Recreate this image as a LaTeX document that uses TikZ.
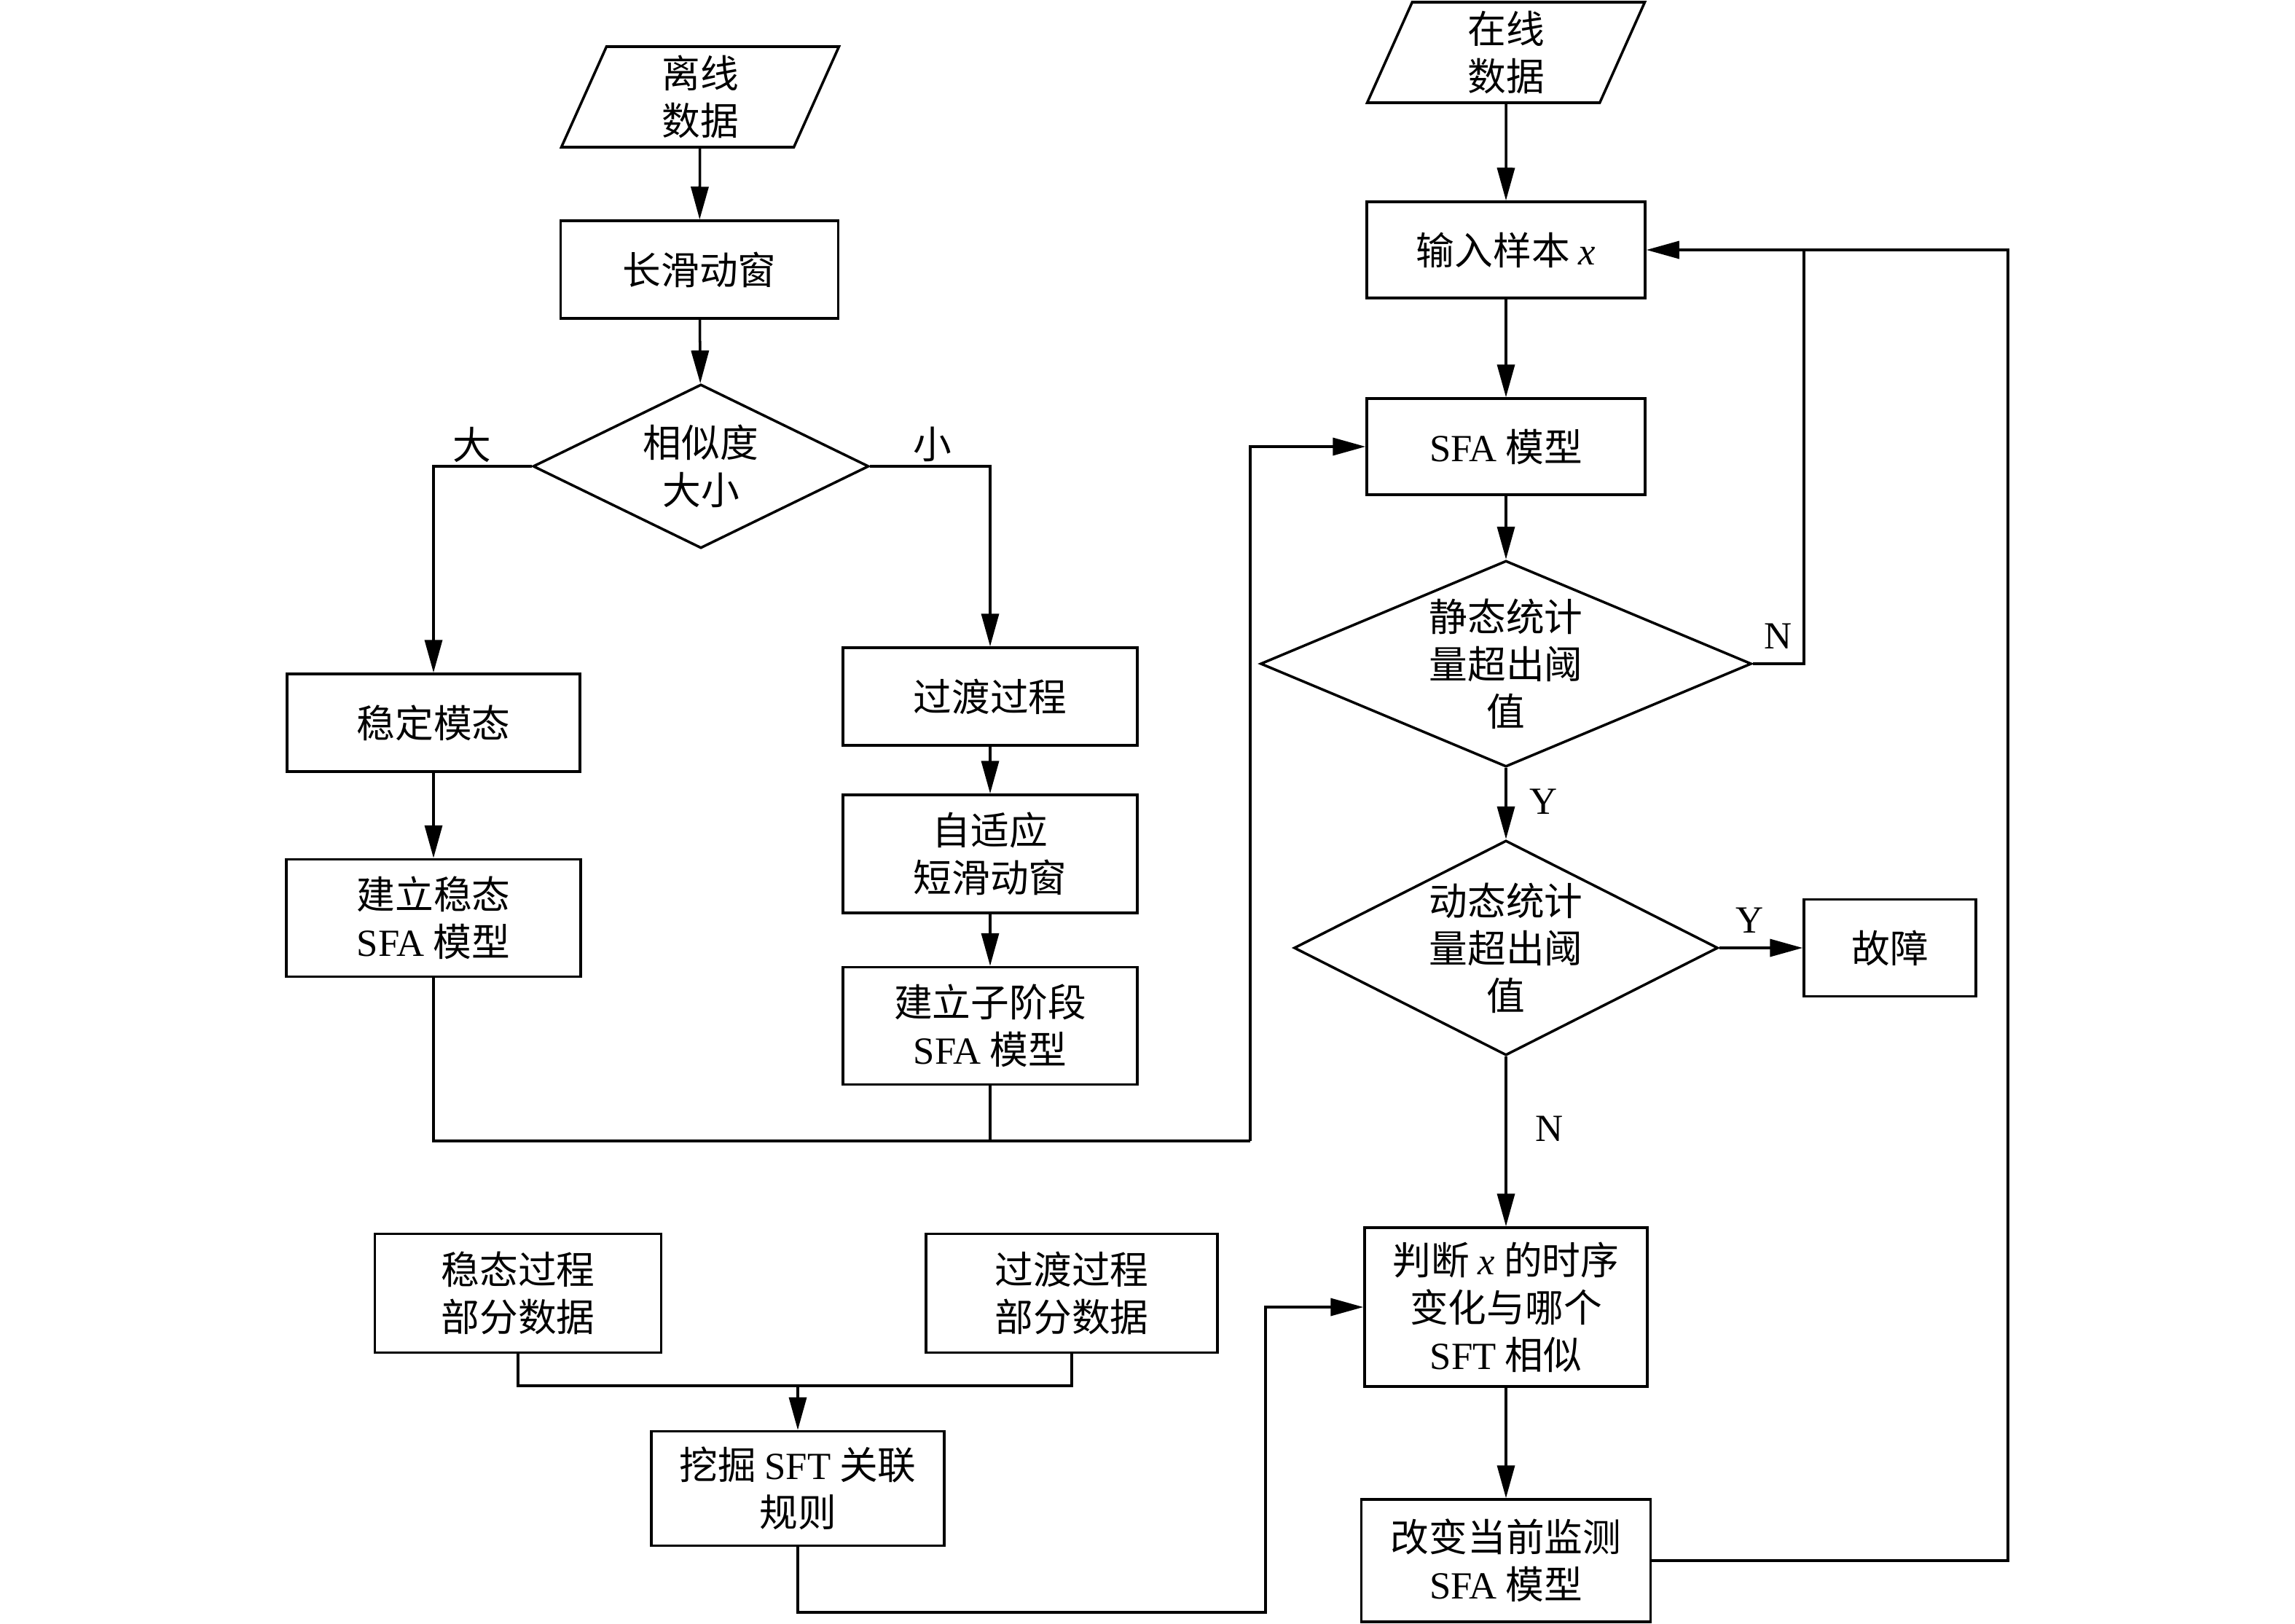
\documentclass[tikz,border=0pt]{standalone}
\usepackage{fontspec}
\setmainfont{Liberation Serif}
\newfontfamily\cjk{Noto Sans CJK SC}
\usepackage{tikz}
\usetikzlibrary{shapes.geometric}
\usetikzlibrary{arrows.meta}
\newcommand{\zhfont}{\cjk\fontsize{15}{18.5}\selectfont}
\newcommand{\lat}[1]{{\rmfamily #1}}
\tikzstyle{box}=[rectangle,draw=black,inner sep=0mm,align=center,font=\zhfont]
\tikzstyle{io}=[trapezium,trapezium left angle=61.5,trapezium right angle=118.5,trapezium stretches body,draw=black,inner sep=0mm,align=center,font=\zhfont,minimum width=3.81cm,minimum height=1.38cm]
\tikzstyle{decide}=[diamond,draw=black,inner sep=0mm,align=center,font=\zhfont]
\tikzstyle{lbl}=[inner sep=0mm,font=\zhfont]
\tikzstyle{arrow}=[-{Triangle[length=4.5mm,width=2.4mm]}]
\tikzset{every picture/.style={
    line width=1
  }
}

\begin{document}
\begin{tikzpicture}
      \useasboundingbox (0,0) rectangle (31.5,-22.28);
      \node[io] at (9.61,-1.33) (off) {离线\\数据};
      \node[io] at (20.67,-0.72) (on) {在线\\数据};
      \node[box, minimum width=3.81cm, minimum height=1.34cm] at (9.60,-3.70) (lwin) {长滑动窗};
      \node[decide, aspect=2.05, minimum width=4.61cm, minimum height=2.25cm] at (9.62,-6.40) (sim) {相似度\\大小};
      \node[box, minimum width=4.02cm, minimum height=1.34cm] at (5.95,-9.92) (stab) {稳定模态};
      \node[box, minimum width=4.04cm, minimum height=1.61cm] at (5.95,-12.60) (stabm) {建立稳态\\\lat{SFA} 模型};
      \node[box, minimum width=4.04cm, minimum height=1.34cm] at (13.59,-9.56) (trans) {过渡过程};
      \node[box, minimum width=4.04cm, minimum height=1.62cm] at (13.59,-11.72) (sadapt) {自适应\\短滑动窗};
      \node[box, minimum width=4.04cm, minimum height=1.61cm] at (13.59,-14.08) (subm) {建立子阶段\\\lat{SFA} 模型};
      \node[box, minimum width=3.82cm, minimum height=1.32cm] at (20.67,-3.43) (inx) {输入样本 \lat{\itshape x}};
      \node[box, minimum width=3.82cm, minimum height=1.32cm] at (20.67,-6.13) (sfa) {\lat{SFA} 模型};
      \node[decide, aspect=2.38, minimum width=6.74cm, minimum height=2.83cm] at (20.67,-9.11) (stat) {静态统计\\量超出阈\\值};
      \node[decide, aspect=1.97, minimum width=5.82cm, minimum height=2.95cm] at (20.67,-13.01) (dyn) {动态统计\\量超出阈\\值};
      \node[box, minimum width=2.36cm, minimum height=1.33cm] at (25.94,-13.01) (fault) {故障};
      \node[box, minimum width=3.88cm, minimum height=2.18cm] at (20.67,-17.94) (judge) {判断 \lat{\itshape x} 的时序\\变化与哪个\\\lat{SFT} 相似};
      \node[box, minimum width=3.97cm, minimum height=1.68cm] at (20.67,-21.42) (change) {改变当前监测\\\lat{SFA} 模型};
      \node[box, minimum width=3.93cm, minimum height=1.63cm] at (7.11,-17.75) (sdat) {稳态过程\\部分数据};
      \node[box, minimum width=4.00cm, minimum height=1.63cm] at (14.71,-17.75) (tdat) {过渡过程\\部分数据};
      \node[box, minimum width=4.02cm, minimum height=1.57cm] at (10.95,-20.43) (mine) {挖掘 \lat{SFT} 关联\\规则};
      \node[lbl] at (6.48,-6.10) (big) {大};
      \node[lbl] at (12.80,-6.10) (small) {小};
      \node[lbl] at (24.40,-8.73) (nstat) {\lat{N}};
      \node[lbl] at (21.19,-11.00) (ystat) {\lat{Y}};
      \node[lbl] at (24.01,-12.63) (ydyn) {\lat{Y}};
      \node[lbl] at (21.27,-15.49) (ndyn) {\lat{N}};
      \coordinate (jl) at (17.16,-15.66);
      \coordinate (jm) at (17.37,-22.13);
      \coordinate (merge) at (10.95,-19.02);
      \coordinate (nin) at (24.76,-3.43);
      \coordinate (nout) at (27.56,-3.43);
      \draw[arrow] (off)--(lwin);
      \draw[arrow] (lwin)--(sim);
      \draw[arrow] (sim.west) -| (stab.north);
      \draw[arrow] (sim.east) -| (trans.north);
      \draw[arrow] (stab)--(stabm);
      \draw[arrow] (trans)--(sadapt);
      \draw[arrow] (sadapt)--(subm);
      \draw (stabm.south) |- (jl);
      \draw (subm.south)--(subm.south |- jl);
      \draw[arrow] (jl) |- (sfa.west);
      \draw[arrow] (on)--(inx);
      \draw[arrow] (inx)--(sfa);
      \draw[arrow] (sfa)--(stat);
      \draw[arrow] (stat)--(dyn);
      \draw[arrow] (dyn)--(fault);
      \draw[arrow] (dyn)--(judge);
      \draw[arrow] (judge)--(change);
      \draw (stat.east) -| (nin);
      \draw[arrow] (change.east) -| (nout)--(inx.east);
      \draw (sdat.south) |- (merge) -| (tdat.south);
      \draw[arrow] (merge)--(mine);
      \draw[arrow] (mine.south) |- (jm) |- (judge.west);
    \end{tikzpicture}
\end{document}
